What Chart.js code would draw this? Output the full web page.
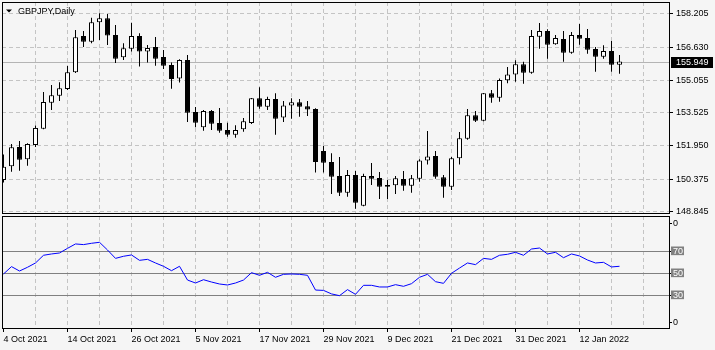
<!DOCTYPE html>
<html>
<head>
<meta charset="utf-8">
<script src="https://cdn.jsdelivr.net/npm/chart.js@4.4.0/dist/chart.umd.min.js"></script>
<style>
  html, body { margin: 0; padding: 0; background: #f5f5f5; }
  #wrap { position: relative; width: 715px; height: 350px; }
  canvas { position: absolute; left: 0; }
  #price { top: 0; }
  #rsi { top: 214px; }
</style>
</head>
<body>
<div id="wrap">
  <canvas id="price" width="715" height="214"></canvas>
  <canvas id="rsi" width="715" height="136"></canvas>
</div>
<script>
const TITLE = 'GBPJPY,Daily'

// daily candles, 4 Oct 2021 .. 19 Jan 2022
const OPEN = [
  150.33, 150.98, 151.90, 151.31, 151.99, 152.76, 154.00, 154.33, 154.65, 155.44,
  157.16, 156.89, 157.81, 158.00, 157.21, 156.15, 156.56, 157.16, 156.42, 156.64,
  156.17, 155.79, 155.14, 156.02, 153.56, 152.83, 153.60, 153.03, 152.70, 152.48,
  152.74, 153.03, 154.21, 153.81, 154.17, 153.29, 153.86, 154.02, 153.83, 153.70,
  151.71, 151.18, 150.52, 149.73, 150.57, 149.11, 150.52, 150.43, 150.09, 150.08,
  150.38, 150.06, 150.39, 151.25, 151.47, 150.46, 150.01, 151.36, 152.29, 153.40,
  153.14, 154.44, 154.23, 155.06, 155.34, 155.82, 155.42, 157.13, 157.40, 156.77,
  157.02, 156.37, 157.21, 157.07, 156.54, 156.18, 156.45, 155.80
]
const HIGH = [
  151.54, 152.04, 152.18, 152.07, 152.91, 154.51, 154.84, 154.97, 155.74, 157.45,
  157.40, 158.03, 158.24, 158.21, 157.68, 156.82, 157.79, 157.29, 156.73, 157.11,
  156.50, 155.90, 156.06, 156.26, 153.79, 153.65, 153.65, 153.75, 153.05, 152.93,
  153.27, 154.22, 154.73, 154.28, 154.44, 154.08, 154.21, 154.17, 154.08, 153.73,
  151.94, 151.60, 151.42, 150.80, 150.76, 150.63, 151.14, 150.71, 150.33, 150.52,
  150.76, 150.57, 151.31, 152.65, 151.71, 150.57, 151.42, 152.61, 153.70, 153.60,
  154.46, 154.60, 155.15, 155.69, 156.01, 155.94, 157.45, 157.78, 157.48, 157.21,
  157.40, 157.35, 157.73, 157.49, 156.64, 156.72, 156.92, 156.26
]
const LOW = [
  150.21, 150.72, 150.77, 151.01, 151.90, 152.74, 153.65, 154.08, 154.60, 155.40,
  156.64, 156.82, 156.97, 156.73, 155.88, 156.02, 156.42, 155.71, 155.90, 155.75,
  155.60, 154.66, 154.95, 153.08, 152.83, 152.67, 152.70, 152.57, 152.38, 152.34,
  152.62, 152.99, 153.71, 153.65, 152.48, 153.08, 153.24, 153.33, 153.37, 150.68,
  150.68, 149.67, 149.57, 149.54, 148.97, 149.08, 150.09, 149.43, 149.43, 149.67,
  149.82, 149.73, 150.25, 151.06, 150.39, 149.49, 149.86, 151.06, 152.24, 153.08,
  153.12, 154.00, 154.04, 154.92, 154.99, 154.90, 155.37, 156.56, 156.08, 156.75,
  155.94, 156.32, 156.75, 156.32, 155.47, 156.08, 155.47, 155.37
]
const CLOSE = [
  150.96, 151.88, 151.29, 152.04, 152.80, 154.03, 154.35, 154.68, 155.44, 157.10,
  156.89, 157.81, 158.00, 157.18, 156.08, 156.58, 157.16, 156.42, 156.59, 156.08,
  155.75, 155.12, 156.02, 153.52, 153.05, 153.60, 153.00, 152.67, 152.48, 152.70,
  153.12, 154.21, 153.81, 154.17, 153.24, 153.87, 154.02, 153.81, 153.67, 151.18,
  151.15, 150.49, 149.73, 150.57, 149.25, 150.52, 150.39, 150.01, 150.01, 150.41,
  150.06, 150.41, 151.26, 151.45, 150.49, 150.01, 151.36, 152.31, 153.40, 153.14,
  154.44, 154.23, 155.07, 155.34, 155.82, 155.42, 157.16, 157.40, 156.75, 157.07,
  156.37, 157.21, 157.03, 156.51, 156.18, 156.45, 155.80, 155.949
]
const RSI = [
  49.4, 56.1, 52.1, 55.5, 59.4, 66.4, 67.6, 68.5, 72.7, 76.7,
  76.1, 77.3, 78.2, 71.2, 63.6, 65.5, 66.7, 61.8, 62.7, 59.4,
  56.4, 52.4, 56.4, 43.9, 41.2, 44.2, 42.1, 40.3, 39.4, 41.2,
  43.9, 50.6, 48.2, 50.9, 46.4, 49.1, 49.4, 49.1, 48.2, 34.8,
  34.5, 31.3, 29.7, 35.2, 30.9, 39.1, 39.1, 37.6, 37.6, 39.7,
  38.2, 40.6, 46.4, 49.1, 42.4, 40.9, 50.0, 54.8, 59.4, 57.9,
  63.6, 62.7, 66.4, 67.3, 69.1, 66.4, 72.1, 73.0, 67.6, 69.1,
  64.2, 67.6, 65.8, 62.1, 59.4, 60.0, 55.8, 56.4
]

const LAST_PRICE = 155.949
const PRICE_TICKS = [148.845, 150.375, 151.950, 153.525, 155.055, 156.630, 158.205]
const RSI_LEVELS = [70, 50, 30]
const RSI_TICKS = [95.1, 70, 50, 30, 5.5]
const RSI_TICK_LABELS = ['0', '70', '50', '30', '0']
// one label every 8 bars
const DATE_LABELS = ['4 Oct 2021', '14 Oct 2021', '26 Oct 2021', '5 Nov 2021', '17 Nov 2021',
  '29 Nov 2021', '9 Dec 2021', '21 Dec 2021', '31 Dec 2021', '12 Jan 2022']

const X_MIN = -0.1875, X_MAX = 83.3125
const GRID = '#c4c4c4'
const DASH = [4, 3]

Chart.defaults.font.family = '"Liberation Sans", Arial, sans-serif'
Chart.defaults.font.size = 9
Chart.defaults.color = '#000'

const gridTicks = scale => {
  const t = []
  for (let i = 0; i <= 80; i += 4) t.push({ value: i })
  scale.ticks = t
}
const noPad = s => { s.paddingLeft = 0; s.paddingRight = 0; s.paddingTop = 0; s.paddingBottom = 0 }

const frame = {
  id: 'frame',
  afterDraw(chart) {
    const { ctx, chartArea: a } = chart
    ctx.save()
    ctx.strokeStyle = '#000'
    ctx.lineWidth = 1
    ctx.strokeRect(a.left + 0.5, a.top + 0.5, a.right - a.left - 1, a.bottom - a.top - 1)
    ctx.restore()
  }
}

const priceDecor = {
  id: 'priceDecor',
  beforeDatasetsDraw(chart) {
    const { ctx, chartArea: a, scales: { y } } = chart
    const py = Math.round(y.getPixelForValue(LAST_PRICE)) + 0.5
    ctx.save()
    ctx.strokeStyle = '#b4b4b4'
    ctx.lineWidth = 1
    ctx.beginPath()
    ctx.moveTo(a.left, py)
    ctx.lineTo(a.right, py)
    ctx.stroke()
    ctx.restore()
  },
  afterDraw(chart) {
    const { ctx, chartArea: a, scales: { y } } = chart
    const py = Math.round(y.getPixelForValue(LAST_PRICE))
    ctx.save()
    ctx.fillStyle = '#000'
    ctx.fillRect(a.right + 1, py - 5, 42, 11)
    ctx.fillStyle = '#fff'
    ctx.font = '9px "Liberation Sans", Arial, sans-serif'
    ctx.textBaseline = 'middle'
    ctx.fillText(LAST_PRICE.toFixed(3), a.right + 6, py + 0.5)
    // title
    ctx.fillStyle = '#000'
    ctx.beginPath()
    ctx.moveTo(6, 9.5); ctx.lineTo(12, 9.5); ctx.lineTo(9, 12.5); ctx.closePath()
    ctx.fill()
    ctx.textBaseline = 'alphabetic'
    ctx.fillText(TITLE, 18, 14)
    ctx.restore()
  }
}

const idx = OPEN.map((_, i) => i)

new Chart(document.getElementById('price'), {
  type: 'bar',
  data: {
    datasets: [
      {
        data: idx.map(i => ({ x: i, y: [LOW[i], HIGH[i]] })),
        backgroundColor: '#000',
        borderWidth: 0,
        barThickness: 1,
        inflateAmount: 0,
        order: 1
      },
      {
        data: idx.map(i => ({ x: i, y: [OPEN[i], CLOSE[i]] })),
        backgroundColor: idx.map(i => CLOSE[i] < OPEN[i] ? '#000' : '#fff'),
        borderColor: '#000',
        borderWidth: 1,
        borderSkipped: false,
        barThickness: 5,
        inflateAmount: 0,
        order: 0
      }
    ]
  },
  options: {
    responsive: false,
    animation: false,
    layout: { padding: { left: 2, top: 2, right: 0, bottom: 0 } },
    plugins: { legend: { display: false }, tooltip: { enabled: false } },
    scales: {
      x: {
        type: 'linear', min: X_MIN, max: X_MAX, stacked: true, offset: false,
        afterBuildTicks: gridTicks,
        afterFit: s => { s.height = 0; noPad(s) },
        ticks: { display: false },
        grid: { offset: false, color: c => c.tick && c.tick.value === 0 ? 'rgba(0,0,0,0)' : GRID, drawTicks: false },
        border: { display: false, dash: DASH }
      },
      y: {
        position: 'right', min: 148.717, max: 158.774,
        afterBuildTicks: s => { s.ticks = PRICE_TICKS.map(v => ({ value: v })) },
        afterFit: s => { s.width = 45; noPad(s) },
        ticks: { padding: 3, callback: v => v.toFixed(3) },
        grid: { color: GRID, tickColor: '#000', tickLength: 3, tickBorderDash: [] },
        border: { display: false, dash: DASH }
      }
    }
  },
  plugins: [priceDecor, frame]
})

new Chart(document.getElementById('rsi'), {
  type: 'line',
  data: {
    datasets: [{
      data: RSI.map((v, i) => ({ x: i, y: v })),
      borderColor: '#0000ff',
      borderWidth: 1,
      pointRadius: 0,
      tension: 0
    }]
  },
  options: {
    responsive: false,
    animation: false,
    layout: { padding: { left: 2, top: 2, right: 0, bottom: 0 } },
    plugins: { legend: { display: false }, tooltip: { enabled: false } },
    scales: {
      x: {
        type: 'linear', min: X_MIN, max: X_MAX, offset: false,
        afterBuildTicks: gridTicks,
        afterFit: s => { s.height = 21; noPad(s) },
        ticks: {
          autoSkip: false, maxRotation: 0, minRotation: 0, align: 'start', padding: 2,
          callback: v => (v % 8 === 0 && DATE_LABELS[v / 8]) || ''
        },
        grid: {
          offset: false,
          color: c => c.tick && c.tick.value === 0 ? 'rgba(0,0,0,0)' : GRID,
          tickColor: c => c.tick && c.tick.value % 8 === 0 && c.tick.value <= 72 ? '#000' : 'rgba(0,0,0,0)',
          tickLength: 3, tickBorderDash: []
        },
        border: { display: false, dash: DASH }
      },
      y: {
        position: 'right', min: -0.6, max: 102.1,
        afterBuildTicks: s => { s.ticks = RSI_TICKS.map(v => ({ value: v })) },
        afterFit: s => { s.width = 45; noPad(s) },
        ticks: {
          padding: 1,
          font: { size: 9, lineHeight: 0.85 },
          callback: (v, i) => RSI_TICK_LABELS[i],
          color: c => RSI_LEVELS.includes(c.tick.value) ? '#fff' : '#000',
          showLabelBackdrop: c => RSI_LEVELS.includes(c.tick.value),
          backdropColor: '#808080',
          backdropPadding: { left: 2, right: 1, top: 1, bottom: 0 }
        },
        grid: {
          color: c => c.tick && RSI_LEVELS.includes(c.tick.value) ? '#808080' : 'rgba(0,0,0,0)',
          tickColor: '#000', tickLength: 2
        },
        border: { display: false }
      }
    }
  },
  plugins: [frame]
})
</script>
</body>
</html>
